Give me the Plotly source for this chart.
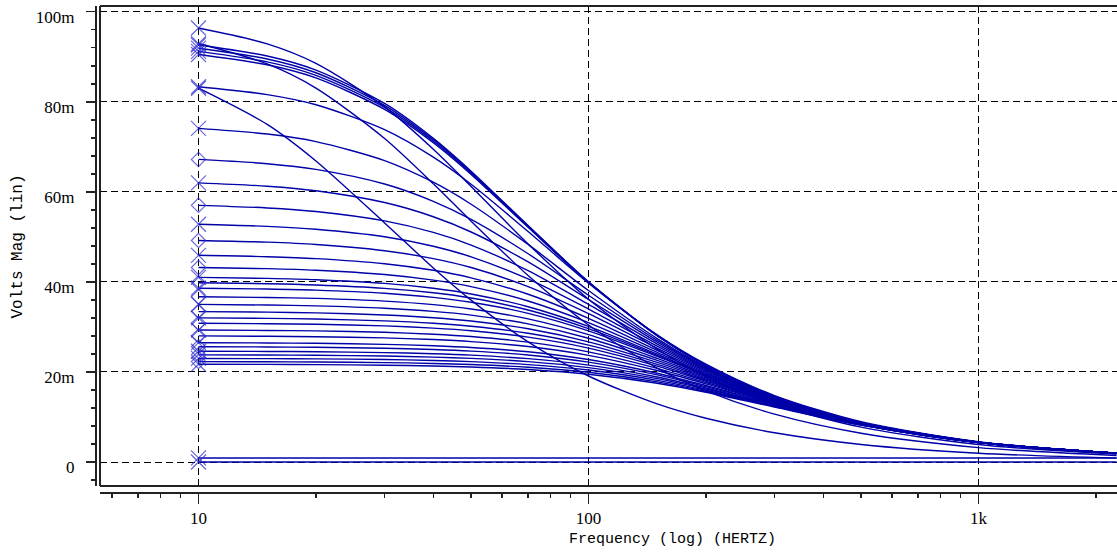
import numpy as np
import plotly.graph_objects as go

# ---------------- data (values in mV) ----------------
FREQ_HZ = [10, 15, 20, 30, 40, 50, 70, 100, 150, 200, 300, 500, 1000, 2260]

S2 = [96.38, 92.87, 88.54, 78.87, 69.46, 61.20, 48.43, 36.15, 25.04, 19.04, 12.83, 7.74, 3.88, 1.72]
S1 = [92.93, 88.40, 83.04, 71.85, 61.79, 53.49, 41.40, 30.43, 20.86, 15.81, 10.62, 6.39, 3.20, 1.42]
T1 = [92.60, 90.16, 87.04, 79.64, 71.88, 64.59, 52.50, 40.02, 28.11, 21.50, 14.55, 8.79, 4.41, 1.95]
T2 = [91.90, 89.51, 86.45, 79.20, 71.55, 64.35, 52.38, 39.97, 28.09, 21.49, 14.54, 8.79, 4.41, 1.95]
T3 = [91.20, 88.86, 85.87, 78.75, 71.22, 64.11, 52.24, 39.91, 28.07, 21.49, 14.54, 8.79, 4.41, 1.95]
T4 = [90.50, 88.21, 85.29, 78.30, 70.89, 63.87, 52.11, 39.85, 28.05, 21.48, 14.54, 8.79, 4.41, 1.95]
M1 = [83.33, 81.59, 79.34, 73.80, 67.69, 61.68, 51.19, 39.71, 28.25, 21.72, 14.75, 8.94, 4.49, 1.99]
C1 = [83.01, 74.97, 66.85, 53.09, 43.10, 35.94, 26.69, 19.10, 12.89, 9.71, 6.49, 3.90, 1.95, 0.86]

L01 = [74.10, 72.83, 71.16, 66.94, 62.13, 57.24, 48.32, 38.08, 27.41, 21.18, 14.45, 8.77, 4.41, 1.95]
L02 = [67.20, 66.25, 64.98, 61.73, 57.89, 53.88, 46.25, 37.03, 27.02, 21.00, 14.39, 8.76, 4.40, 1.95]
L03 = [62.00, 61.25, 60.24, 57.62, 54.47, 51.08, 44.44, 36.09, 26.64, 20.82, 14.33, 8.75, 4.40, 1.95]
L04 = [57.00, 56.42, 55.63, 53.54, 50.98, 48.18, 42.49, 35.02, 26.20, 20.61, 14.26, 8.73, 4.39, 1.95]
L05 = [52.80, 52.33, 51.70, 50.02, 47.91, 45.56, 40.66, 33.97, 25.76, 20.39, 14.19, 8.71, 4.39, 1.95]
L06 = [49.20, 48.82, 48.31, 46.92, 45.17, 43.19, 38.95, 32.96, 25.30, 20.17, 14.11, 8.69, 4.38, 1.95]
L07 = [45.90, 45.59, 45.17, 44.04, 42.58, 40.90, 37.25, 31.91, 24.82, 19.92, 14.02, 8.67, 4.38, 1.95]
L08 = [43.20, 42.94, 42.59, 41.64, 40.40, 38.96, 35.76, 30.96, 24.36, 19.68, 13.94, 8.65, 4.37, 1.95]
L09 = [41.00, 40.78, 40.48, 39.66, 38.58, 37.32, 34.48, 30.12, 23.95, 19.46, 13.86, 8.64, 4.37, 1.95]
L10 = [39.80, 39.60, 39.32, 38.57, 37.58, 36.41, 33.76, 29.63, 23.70, 19.33, 13.81, 8.62, 4.37, 1.95]
L11 = [38.60, 38.42, 38.17, 37.47, 36.56, 35.48, 33.02, 29.13, 23.44, 19.18, 13.76, 8.61, 4.37, 1.95]
L12 = [36.70, 36.54, 36.33, 35.73, 34.94, 33.99, 31.80, 28.28, 23.00, 18.94, 13.67, 8.59, 4.36, 1.95]
L13 = [35.00, 34.86, 34.68, 34.15, 33.46, 32.63, 30.68, 27.48, 22.56, 18.69, 13.58, 8.57, 4.36, 1.95]
L14 = [33.40, 33.28, 33.12, 32.66, 32.05, 31.32, 29.58, 26.69, 22.11, 18.44, 13.48, 8.54, 4.36, 1.95]
L15 = [32.00, 31.90, 31.75, 31.35, 30.81, 30.16, 28.60, 25.96, 21.69, 18.19, 13.38, 8.52, 4.35, 1.95]
L16 = [30.80, 30.71, 30.58, 30.22, 29.73, 29.15, 27.73, 25.30, 21.31, 17.96, 13.29, 8.49, 4.35, 1.95]
L17 = [29.30, 29.22, 29.11, 28.80, 28.38, 27.86, 26.62, 24.45, 20.79, 17.65, 13.16, 8.46, 4.34, 1.95]
L18 = [28.00, 27.93, 27.83, 27.56, 27.19, 26.74, 25.64, 23.68, 20.31, 17.35, 13.04, 8.42, 4.34, 1.95]
L19 = [26.50, 26.44, 26.36, 26.13, 25.81, 25.42, 24.47, 22.75, 19.72, 16.98, 12.87, 8.38, 4.33, 1.95]
L20 = [25.60, 25.55, 25.47, 25.26, 24.98, 24.63, 23.76, 22.18, 19.34, 16.73, 12.77, 8.35, 4.33, 1.95]
L21 = [24.60, 24.55, 24.49, 24.30, 24.05, 23.73, 22.95, 21.52, 18.89, 16.44, 12.64, 8.31, 4.33, 1.95]
L22 = [23.80, 23.76, 23.70, 23.53, 23.30, 23.01, 22.30, 20.97, 18.52, 16.20, 12.52, 8.28, 4.32, 1.95]
L23 = [23.00, 22.96, 22.91, 22.75, 22.55, 22.29, 21.63, 20.42, 18.14, 15.94, 12.40, 8.25, 4.32, 1.95]
L24 = [22.30, 22.26, 22.22, 22.08, 21.89, 21.65, 21.05, 19.93, 17.79, 15.70, 12.29, 8.21, 4.31, 1.95]
L25 = [21.70, 21.67, 21.62, 21.49, 21.32, 21.10, 20.54, 19.49, 17.48, 15.49, 12.19, 8.18, 4.31, 1.95]

Z1 = [0.90, 0.90, 0.90, 0.90, 0.90, 0.90, 0.90, 0.90, 0.90, 0.90, 0.90, 0.90, 0.90, 0.90]
Z0 = [0.00, 0.00, 0.00, 0.00, 0.00, 0.00, 0.00, 0.00, 0.00, 0.00, 0.00, 0.00, 0.00, 0.00]

CURVES = [S2, S1, T1, T2, T3, T4, M1, C1,
          L01, L02, L03, L04, L05, L06, L07, L08, L09, L10, L11, L12, L13,
          L14, L15, L16, L17, L18, L19, L20, L21, L22, L23, L24, L25, Z1, Z0]

Y_TICKS_MV = [0, 20, 40, 60, 80, 100]
Y_TICK_TEXT = ["0", "20m", "40m", "60m", "80m", "100m"]
X_TICKS = [10, 100, 1000]
X_TICK_TEXT = ["10", "100", "1k"]
X_MINOR = [6, 7, 8, 9, 20, 30, 40, 50, 60, 70, 80, 90,
           200, 300, 400, 500, 600, 700, 800, 900, 2000]

# ---------------- styling ----------------
LINE = "#0000a8"
MARK = "#2a2ad0"
AXC = "#222222"
TICKFONT = dict(family="Liberation Serif", size=17, color="black")
TITLEFONT = "Liberation Mono"

fig = go.Figure()
for c in CURVES:
    fig.add_trace(go.Scatter(
        x=FREQ_HZ, y=np.array(c) / 1000.0, mode="lines",
        line=dict(color=LINE, width=1.4, shape="spline", smoothing=0.8),
        hoverinfo="skip", showlegend=False))

starts = [c[0] / 1000.0 for c in CURVES]
symbols = []
sizes = []
for i in range(len(CURVES)):
    if i >= 8 and i < len(CURVES) - 2 and i % 2 == 1:
        symbols.append("diamond-open")
        sizes.append(11)
    else:
        symbols.append("x-thin")
        sizes.append(15)
fig.add_trace(go.Scatter(
    x=[FREQ_HZ[0]] * len(CURVES), y=starts, mode="markers",
    marker=dict(symbol=symbols, size=sizes, color=MARK,
                line=dict(color=MARK, width=1.2)),
    hoverinfo="skip", showlegend=False))

W, H = 1117, 554
ML, MR, MT, MB = 96, 0, 6, 61
PW = W - ML - MR
PH = H - MT - MB

fig.update_layout(
    width=W, height=H,
    margin=dict(l=ML, r=MR, t=MT, b=MB, pad=0, autoexpand=False),
    paper_bgcolor="white", plot_bgcolor="white",
    showlegend=False,
    xaxis=dict(
        type="log", range=[0.7474, 3.3551], domain=[4 / PW, 1],
        anchor="free", position=0, automargin=False,
        showline=True, linecolor=AXC, linewidth=2,
        ticks="outside", ticklen=10, tickwidth=1.5, tickcolor=AXC,
        tickvals=X_TICKS, ticktext=X_TICK_TEXT, tickfont=TICKFONT,
        ticklabelstandoff=0, ticklabeloverflow="allow",
        showgrid=True, gridcolor="black", gridwidth=1, griddash="7px,4px",
        zeroline=False,
        minor=dict(tickvals=X_MINOR, ticks="outside", ticklen=4,
                   tickwidth=1.5, tickcolor=AXC, showgrid=False),
    ),
    yaxis=dict(
        range=[-0.00533, 0.10127], domain=[7 / PH, 1],
        anchor="free", position=0, automargin=False,
        showline=True, linecolor=AXC, linewidth=2,
        ticks="outside", ticklen=9, tickwidth=1.5, tickcolor=AXC,
        tickvals=[v / 1000.0 for v in Y_TICKS_MV], ticktext=Y_TICK_TEXT,
        tickfont=TICKFONT, ticklabelstandoff=8, ticklabelshift=5,
        ticklabeloverflow="allow",
        showgrid=True, gridcolor="black", gridwidth=1, griddash="7px,4px",
        zeroline=False,
        minor=dict(dtick=0.004, tick0=0, ticks="outside", ticklen=4,
                   tickwidth=1.5, tickcolor=AXC, showgrid=False),
    ),
)

# plot frame (top, left, bottom)
for x0, y0, x1, y1 in [(0, 1, 1, 1), (0, 0, 0, 1), (0, 0, 1, 0)]:
    fig.add_shape(type="line", xref="x domain", yref="y domain",
                  x0=x0, y0=y0, x1=x1, y1=y1,
                  line=dict(color=AXC, width=2))

fig.add_annotation(text="Volts Mag (lin)", textangle=-90, showarrow=False,
                   xref="paper", yref="paper",
                   x=(18 - ML) / PW, y=(H - MB - 246.5) / PH,
                   xanchor="center", yanchor="middle",
                   font=dict(family=TITLEFONT, size=16, color="black"))
fig.add_annotation(text="Frequency (log) (HERTZ)", showarrow=False,
                   xref="paper", yref="paper",
                   x=(672 - ML) / PW, y=(H - MB - 539) / PH,
                   xanchor="center", yanchor="middle",
                   font=dict(family=TITLEFONT, size=15, color="black"))

fig.write_html(
    "out.html",
    config={"displayModeBar": False, "staticPlot": True},
    post_script="document.body.style.margin='0';document.body.style.overflow='hidden';",
)
